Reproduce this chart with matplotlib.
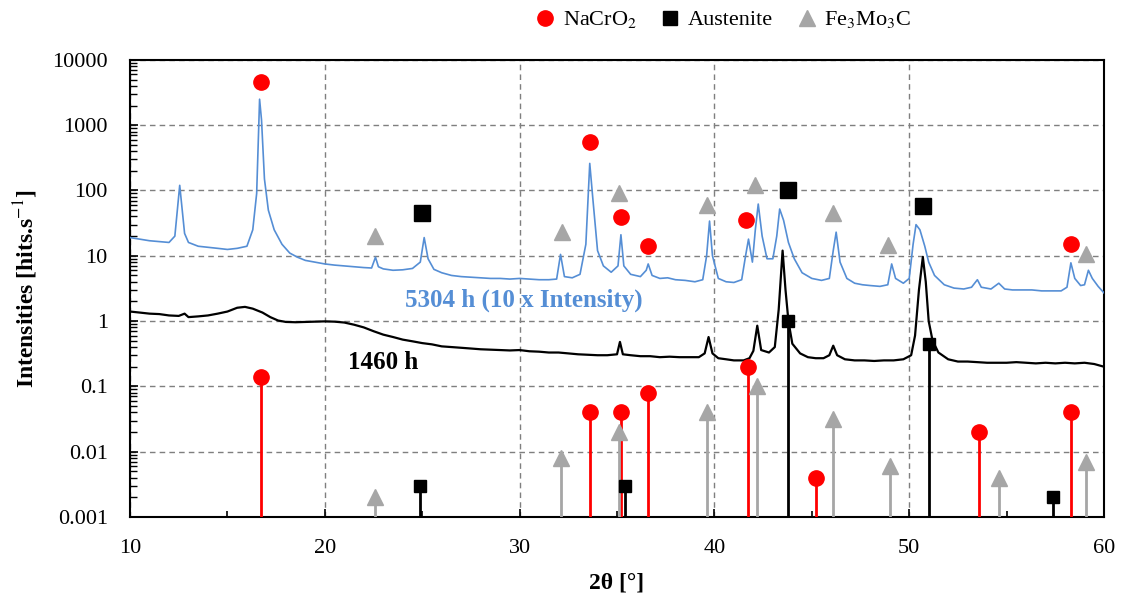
import numpy as np
import matplotlib
matplotlib.use("Agg")
import matplotlib.pyplot as plt
from matplotlib.lines import Line2D
from matplotlib.ticker import FixedLocator, LogLocator, NullFormatter, FuncFormatter

plt.rcParams['font.family'] = ['Liberation Serif', 'DejaVu Serif']
plt.rcParams['mathtext.fontset'] = 'stix'

# 5304 h pattern (already x10)
blue_x = [10.0, 10.5, 11.0, 11.5, 12.0, 12.3, 12.45, 12.55, 12.65, 12.8, 13.0, 13.5, 14.0, 14.5, 15.0,
          15.5, 16.0, 16.3, 16.5, 16.65, 16.75, 16.9, 17.1, 17.4, 17.8, 18.2, 18.6, 19.0, 19.5, 20.0,
          20.5, 21.0, 21.5, 22.0, 22.4, 22.6, 22.75, 23.0, 23.5, 24.0, 24.5, 24.9, 25.1, 25.3, 25.6,
          26.0, 26.5, 27.0, 27.5, 28.0, 28.5, 29.0, 29.5, 30.0, 30.5, 31.0, 31.5, 31.9, 32.1, 32.3,
          32.7, 33.1, 33.4, 33.6, 33.75, 34.0, 34.3, 34.7, 35.05, 35.2, 35.35, 35.7, 36.2, 36.5, 36.6,
          36.8, 37.2, 37.6, 38.0, 38.5, 39.0, 39.4, 39.6, 39.75, 39.9, 40.2, 40.6, 41.0, 41.4, 41.6,
          41.75, 41.95, 42.1, 42.25, 42.45, 42.7, 43.0, 43.2, 43.35, 43.55, 43.8, 44.1, 44.5, 45.0,
          45.5, 45.9, 46.1, 46.25, 46.45, 46.8, 47.2, 47.6, 48.0, 48.5, 48.9, 49.1, 49.3, 49.7, 50.0,
          50.2, 50.35, 50.55, 50.8, 51.0, 51.3, 51.8, 52.3, 52.8, 53.2, 53.5, 53.7, 54.2, 54.6, 54.9,
          55.3, 55.8, 56.3, 56.8, 57.3, 57.8, 58.1, 58.3, 58.5, 58.8, 59.0, 59.2, 59.4, 59.7, 60.0]
blue_y = [19, 18, 17, 16.5, 16, 20, 60, 120, 60, 22, 16, 14, 13.5, 13, 12.5,
          13, 14, 25, 90, 2500, 1200, 150, 50, 25, 15, 11, 9.5, 8.5, 8, 7.5,
          7.2, 7, 6.8, 6.6, 6.5, 9.5, 6.8, 6.3, 6.0, 6.1, 6.4, 8, 19, 9, 6.2,
          5.5, 5.0, 4.8, 4.7, 4.6, 4.5, 4.5, 4.4, 4.5, 4.4, 4.3, 4.3, 4.4, 10.5, 4.8,
          4.6, 5.2, 15, 260, 80, 12, 7, 5.6, 7, 21, 7, 5.2, 4.8, 6, 7.5,
          5, 4.5, 4.6, 4.3, 4.2, 4.0, 4.3, 10, 34, 10, 4.5, 4.0, 3.9, 4.3, 10,
          18, 8, 25, 62, 20, 9, 9, 20, 52, 35, 16, 9, 5.5, 4.5,
          4.2, 4.5, 12, 23, 8, 4.5, 3.8, 3.6, 3.5, 3.4, 3.6, 7.5, 4.5, 3.8, 4.5,
          15, 30, 25, 14, 8, 5, 3.6, 3.2, 3.1, 3.3, 4.3, 3.3, 3.1, 3.8, 3.1,
          3.0, 3.0, 3.0, 2.9, 2.9, 2.9, 3.3, 7.8, 4.5, 3.5, 3.6, 6.0, 4.5, 3.4, 2.7]

# 1460 h pattern
black_x = [10.0, 10.5, 11.0, 11.5, 12.0, 12.5, 12.8, 13.0, 13.5, 14.0, 14.5, 15.0, 15.5, 15.9, 16.3,
           16.8, 17.2, 17.6, 18.0, 18.5, 19.0, 19.5, 20.0, 20.5, 21.0, 21.5, 22.0, 22.5, 23.0, 23.5,
           24.0, 24.5, 25.0, 25.5, 26.0, 26.5, 27.0, 27.5, 28.0, 28.5, 29.0, 29.5, 30.0, 30.5, 31.0,
           31.5, 32.0, 32.5, 33.0, 33.5, 34.0, 34.5, 35.0, 35.15, 35.3, 35.7, 36.2, 36.7, 37.2, 37.7,
           38.2, 38.7, 39.2, 39.5, 39.7, 39.9, 40.2, 40.6, 41.0, 41.5, 41.8, 42.0, 42.2, 42.4, 42.8,
           43.1, 43.3, 43.5, 43.65, 43.8, 44.0, 44.4, 44.8, 45.2, 45.6, 45.9, 46.1, 46.3, 46.7, 47.2,
           47.7, 48.2, 48.7, 49.2, 49.7, 50.1, 50.3, 50.5, 50.7, 50.85, 51.0, 51.2, 51.5, 52.0, 52.5,
           53.0, 53.5, 54.0, 54.5, 55.0, 55.5, 56.0, 56.5, 57.0, 57.5, 58.0, 58.5, 59.0, 59.5, 60.0]
black_y = [1.4, 1.35, 1.3, 1.28, 1.22, 1.2, 1.3, 1.15, 1.18, 1.22, 1.3, 1.4, 1.6, 1.65, 1.55,
           1.35, 1.15, 1.02, 0.97, 0.96, 0.97, 0.98, 0.99, 0.98, 0.95, 0.88, 0.8, 0.7, 0.62, 0.57,
           0.52, 0.49, 0.46, 0.44, 0.41, 0.40, 0.39, 0.38, 0.37, 0.365, 0.36, 0.355, 0.36, 0.345, 0.34,
           0.33, 0.33, 0.32, 0.31, 0.305, 0.30, 0.30, 0.31, 0.48, 0.31, 0.30, 0.29, 0.29, 0.28, 0.285,
           0.28, 0.28, 0.28, 0.32, 0.57, 0.32, 0.27, 0.26, 0.25, 0.25, 0.27, 0.35, 0.85, 0.36, 0.33,
           0.4, 1.5, 12, 3, 1.0, 0.45, 0.32, 0.28, 0.27, 0.27, 0.30, 0.42, 0.3, 0.26, 0.25,
           0.25, 0.245, 0.25, 0.25, 0.26, 0.3, 0.6, 3, 9.6, 4, 1.0, 0.5, 0.33, 0.26, 0.24,
           0.24, 0.235, 0.23, 0.23, 0.23, 0.235, 0.23, 0.225, 0.23, 0.225, 0.23, 0.225, 0.23, 0.22, 0.2]

# reference sticks
nacro2_pos = [16.7, 33.6, 35.2, 36.6, 41.7, 45.2, 53.6, 58.3]
nacro2_int = [0.14, 0.04, 0.04, 0.08, 0.2, 0.004, 0.02, 0.04]
aust_pos = [24.9, 35.4, 43.8, 51.0, 57.4]
aust_int = [0.003, 0.003, 1.0, 0.45, 0.002]
fe3mo3c_pos = [22.6, 32.1, 35.1, 39.6, 42.2, 46.1, 49.0, 54.6, 59.1]
fe3mo3c_int = [0.002, 0.008, 0.02, 0.04, 0.1, 0.032, 0.006, 0.004, 0.007]

# phase labels over the 5304 h peaks
lab_nacro2_x = [16.7, 33.6, 35.2, 36.6, 41.6, 58.3]
lab_nacro2_y = [4600, 550, 39, 14, 35, 15]
lab_aust_x = [25.0, 43.8, 50.7]
lab_aust_y = [45, 100, 57]
lab_fe_x = [22.6, 32.2, 35.1, 39.6, 42.1, 46.1, 48.9, 59.1]
lab_fe_y = [20, 23, 93, 61, 123, 45, 14.5, 10.5]

RED = '#FF0000'
GREY = '#A6A6A6'
BLUE = '#558ED5'

fig = plt.figure(figsize=(11.24, 6.05), dpi=100)
ax = fig.add_axes([0.1157, 0.1455, 0.8665, 0.7555])

ax.plot(blue_x, blue_y, color=BLUE, lw=1.2, zorder=3)
ax.plot(black_x, black_y, color='black', lw=1.6, zorder=3)

base = 0.001
for x, y in zip(nacro2_pos, nacro2_int):
    ax.plot([x, x], [base, y], color=RED, lw=2, zorder=4)
ax.plot(nacro2_pos, nacro2_int, 'o', color=RED, ms=11, zorder=5)
for x, y in zip(aust_pos, aust_int):
    ax.plot([x, x], [base, y], color='black', lw=2, zorder=4)
ax.plot(aust_pos, aust_int, 's', color='black', ms=8, zorder=5)
for x, y in zip(fe3mo3c_pos, fe3mo3c_int):
    ax.plot([x, x], [base, y], color=GREY, lw=2, zorder=4)
ax.plot(fe3mo3c_pos, fe3mo3c_int, '^', color=GREY, ms=11, zorder=5)

ax.plot(lab_nacro2_x, lab_nacro2_y, 'o', color=RED, ms=11, zorder=5)
ax.plot(lab_aust_x, lab_aust_y, 's', color='black', ms=11, zorder=5)
ax.plot(lab_fe_x, lab_fe_y, '^', color=GREY, ms=11, zorder=5)

ax.text(24.1, 2.1, '5304 h (10 x Intensity)', color=BLUE, fontsize=18, fontweight='bold',
        va='center', ha='left', zorder=6)
ax.text(21.2, 0.23, '1460 h', color='black', fontsize=18, fontweight='bold',
        va='center', ha='left', zorder=6)

ax.set_xlim(10, 60)
ax.set_yscale('log')
ax.set_ylim(0.001, 10000)
ax.xaxis.set_major_locator(FixedLocator([10, 20, 30, 40, 50, 60]))
ax.xaxis.set_minor_locator(FixedLocator([15, 25, 35, 45, 55]))
ax.yaxis.set_major_locator(FixedLocator([1e-3, 1e-2, 1e-1, 1, 10, 100, 1000, 10000]))
ax.yaxis.set_minor_locator(LogLocator(base=10, subs=np.arange(2, 10)))
ax.yaxis.set_minor_formatter(NullFormatter())
ax.yaxis.set_major_formatter(FuncFormatter(lambda v, p: f'{v:g}' if v < 1 else f'{int(round(v))}'))
ax.tick_params(axis='both', which='both', direction='in', labelsize=16, top=False, right=False)
ax.tick_params(axis='y', which='major', length=6, width=1.2, pad=16)
ax.tick_params(axis='x', which='major', length=6, width=1.2, pad=16)
ax.tick_params(axis='x', which='minor', length=4, width=1.2)
ax.tick_params(axis='y', which='minor', length=5, width=1)
ax.grid(True, which='major', ls=(0, (4, 3)), color='#7F7F7F', lw=1)
for s in ax.spines.values():
    s.set_linewidth(1.5)

ax.set_xlabel('2θ [°]', fontsize=17, fontweight='bold', labelpad=10)
ax.set_ylabel('Intensities [hits.s$^{-1}$]', fontsize=17, fontweight='bold', labelpad=9)

handles = [Line2D([], [], ls='none', marker='o', color=RED, ms=11),
           Line2D([], [], ls='none', marker='s', color='black', ms=10),
           Line2D([], [], ls='none', marker='^', color=GREY, ms=11)]
labels = ['NaCrO$_2$', 'Austenite', 'Fe$_3$Mo$_3$C']
fig.legend(handles, labels, loc='center', bbox_to_anchor=(0.643, 0.967), ncol=3, frameon=False,
           fontsize=16, handlelength=1.0, handletextpad=0.3, columnspacing=1.0)

fig.savefig('out.png', dpi=100)
